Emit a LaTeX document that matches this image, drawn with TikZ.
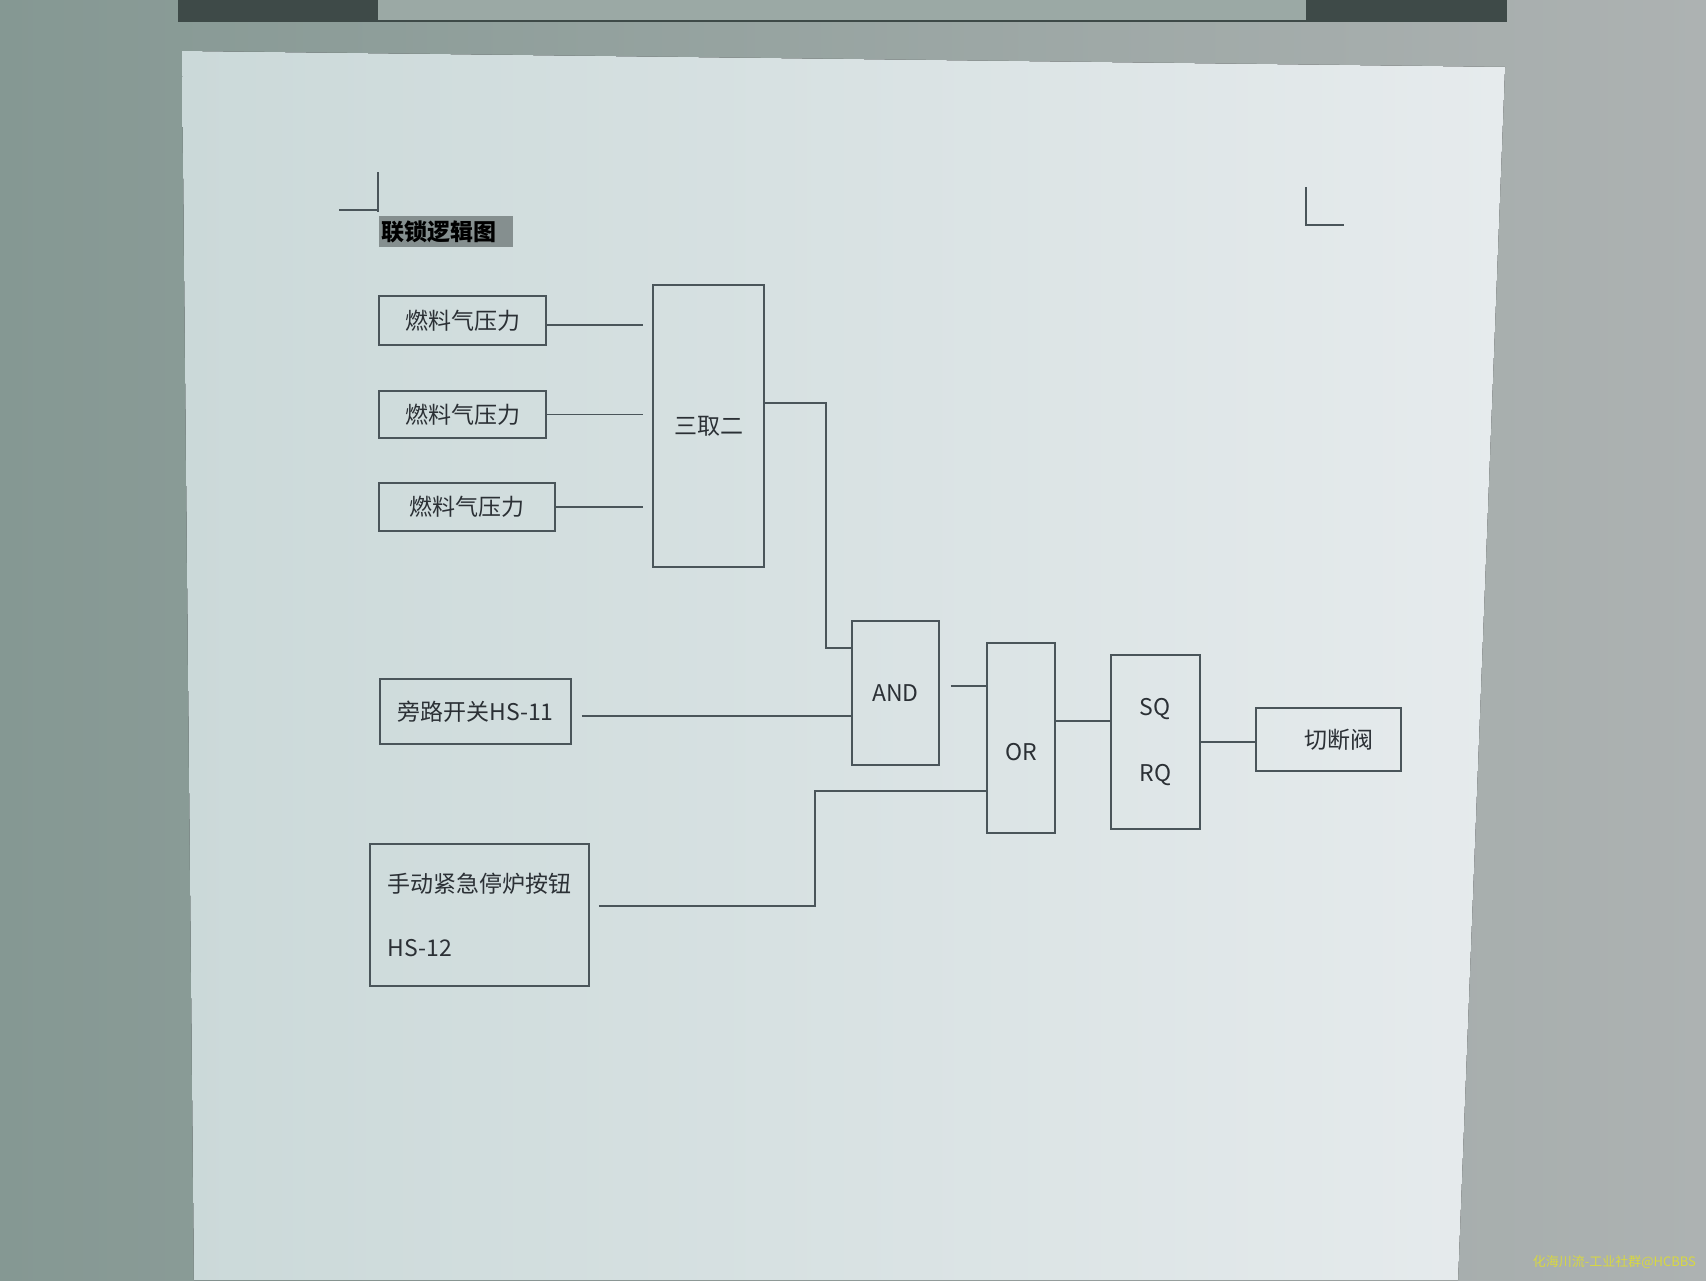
\documentclass[tikz,border=0pt]{standalone}
\usepackage{fontspec}
\setmainfont{Noto Sans CJK SC}
\usetikzlibrary{calc}
\definecolor{deskl}{HTML}{859893}
\definecolor{deskr}{HTML}{ADB2B2}
\definecolor{pagel}{HTML}{CBD9D9}
\definecolor{pager}{HTML}{E6EBED}
\definecolor{rulerdark}{HTML}{3E4A48}
\definecolor{rulerlight}{HTML}{9BA9A5}
\definecolor{linec}{HTML}{4A555A}
\definecolor{ink}{HTML}{2B3035}
\definecolor{hilite}{HTML}{858F8F}
\definecolor{wmark}{HTML}{D8D840}
\begin{document}
\begin{tikzpicture}[x=0.5pt,y=-0.5pt,
  box/.style={draw=linec, line width=0.8pt, text=ink, inner sep=3.3pt,
    font=\fontsize{11.5}{14}\selectfont},
  wire/.style={draw=linec, line width=0.8pt},
  cropmark/.style={draw=linec, line width=0.8pt}]
\useasboundingbox (0,0) rectangle (1706,1280);
% screen and page
\fill[left color=deskl, right color=deskr] (0,0) rectangle (1706,1280);
\fill[rulerdark] (178,0) rectangle (1507,22);
\fill[rulerlight] (378,0) rectangle (1306,20);
\fill[left color=pagel, right color=pager] (182,51) -- (1505,67) -- (1458,1280) -- (194,1280) -- cycle;
\draw[cropmark] (378,172) -- (378,212) (339,210) -- (378,210);
\draw[cropmark] (1306,187) -- (1306,225) -- (1344,225);
% title
\node[fill=hilite, text=black, anchor=west, inner xsep=1pt, inner ysep=2pt,
  text width=65pt, align=left, font=\fontsize{11.5}{14}\selectfont\bfseries]
  (title) at (379,231.5) {联锁逻辑图};
% inputs
\node[box, minimum width=83.5pt, minimum height=24.5pt] (f1) at (462.5,320.5) {燃料气压力};
\node[box, minimum width=83.5pt, minimum height=23.5pt] (f2) at (462.5,414.5) {燃料气压力};
\node[box, minimum width=88pt, minimum height=24pt] (f3) at (467,507) {燃料气压力};
\node[box, minimum width=95.5pt, minimum height=32.5pt] (hs11) at (475.5,711.5) {旁路开关HS-11};
\node[box, minimum width=109.5pt, minimum height=71pt, align=left] (hs12) at (479.5,915)
  {手动紧急停炉按钮\\[18pt]HS-12};
% logic
\node[box, minimum width=55.5pt, minimum height=141pt] (two) at (708.5,426) {三取二};
\node[box, minimum width=43.5pt, minimum height=72pt] (and) at (895.5,693) {AND};
\node[box, minimum width=34pt, minimum height=95pt, text height=23pt] (or) at (1021,738) {OR};
\node[box, minimum width=44.5pt, minimum height=87pt, align=left] (sr) at (1155.5,742)
  {SQ\\[19pt]RQ};
\node[box, minimum width=72.5pt, minimum height=31.5pt, text width=44.5pt, align=right] (valve)
  at (1328.5,739.5) {切断阀};
% connectors
\coordinate (f1out) at ($(f1.east)+(0,4.5)$);
\coordinate (hs11out) at ($(hs11.east)+(0,4.5)$);
\coordinate (twoout) at ($(two.east)+(0,-23)$);
\coordinate (andin) at ($(and.west)+(0,-45)$);
\coordinate (andout) at ($(and.east)+(0,-7)$);
\coordinate (hs12out) at ($(hs12.east)+(0,-9)$);
\coordinate (orin) at ($(or.west)+(0,53)$);
\coordinate (orout) at ($(or.east)+(0,-17)$);
\draw[wire, shorten >=4.5pt] (f1out) -- (f1out -| two.west);
\draw[wire, shorten >=4.5pt] (f2.east) -- (f2.east -| two.west);
\draw[wire, shorten >=4.5pt] (f3.east) -- (f3.east -| two.west);
\draw[wire] (twoout) -| ($(andin)+(-25,0)$) -- (andin);
\draw[wire, shorten <=5pt] (hs11out) -- (hs11out -| and.west);
\draw[wire, shorten <=5.5pt] (andout) -- (andout -| or.west);
\draw[wire, shorten <=4.5pt] (hs12out) -| ($(orin)+(-171,0)$) -- (orin);
\draw[wire] (orout) -- (orout -| sr.west);
\draw[wire] (sr.east) -- (sr.east -| valve.west);
% watermark
\node[text=wmark, anchor=east, font=\fontsize{6.5}{8}\selectfont] (wm) at (1703,1262)
  {化海川流-工业社群@HCBBS};
\end{tikzpicture}
\end{document}
